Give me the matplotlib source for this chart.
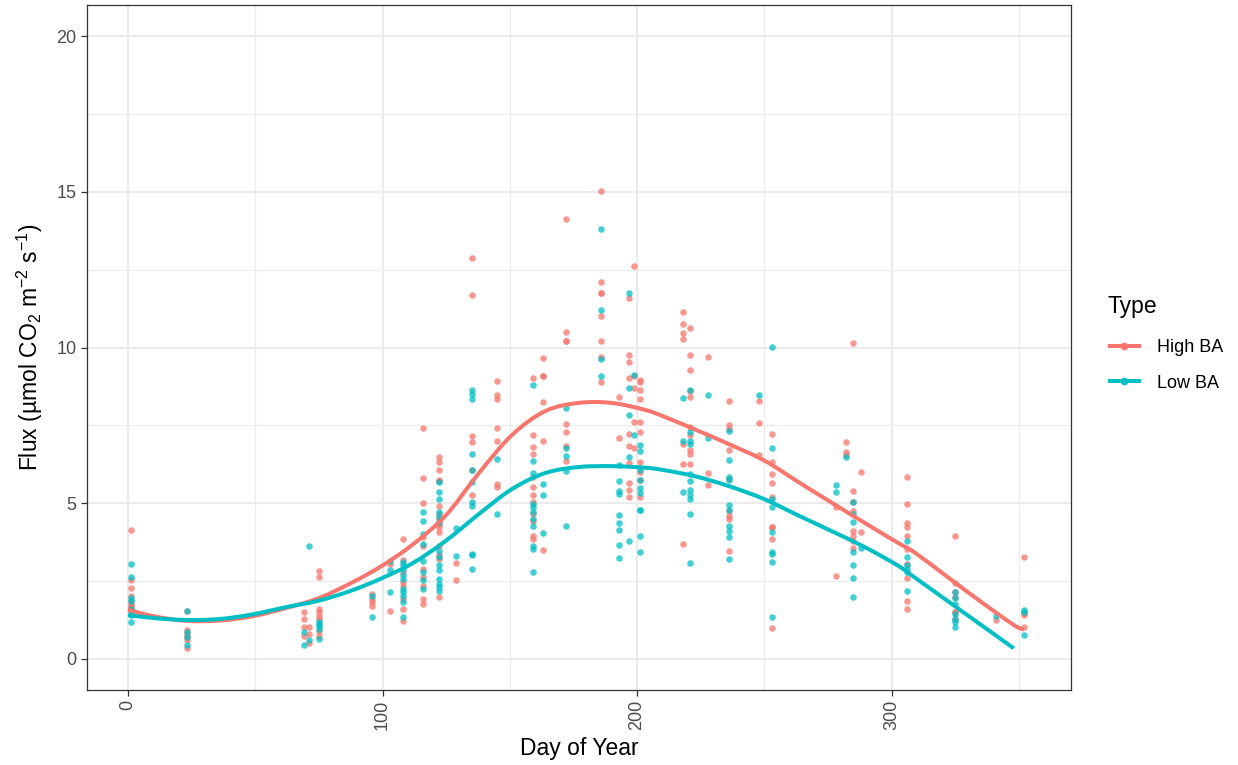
import matplotlib
matplotlib.use("Agg")
import matplotlib.pyplot as plt
from matplotlib.lines import Line2D
from matplotlib.path import Path
from matplotlib.patches import PathPatch
import numpy as np

plt.rcParams['font.family'] = ['Liberation Sans', 'DejaVu Sans']
plt.rcParams['mathtext.fontset'] = 'custom'
plt.rcParams['mathtext.rm'] = 'Liberation Sans'
plt.rcParams['mathtext.it'] = 'Liberation Sans:italic'

# ---------------- data ----------------
groups = ["High BA", "Low BA"]
colors = ["#F8766D", "#00BFC4"]

high_days = [1, 23, 69, 71, 75, 96, 103, 108, 116, 122, 129, 135, 145, 159, 163, 172,
             186, 193, 197, 199, 201, 218, 221, 228, 236, 248, 253, 278, 282, 285, 288,
             306, 325, 341, 352]
high_flux = [
    [4.13, 2.52, 2.27, 2.03, 1.87, 1.77, 1.66, 1.55, 1.62, 1.70],
    [1.55, 0.94, 0.80, 0.60, 0.34, 0.70],
    [1.52, 1.28, 1.02, 0.75],
    [1.02, 0.79, 0.50],
    [2.82, 2.64, 1.50, 1.39, 1.28, 0.91, 0.75, 1.60],
    [2.09, 1.93, 1.82, 1.71],
    [3.05, 1.53],
    [3.85, 3.16, 2.78, 2.46, 2.35, 1.93, 1.61, 1.23],
    [7.41, 5.80, 5.01, 3.91, 3.64, 2.89, 2.62, 2.35, 1.93, 1.77],
    [6.48, 6.32, 6.05, 5.73, 5.70, 4.92, 4.66, 4.50, 4.34, 4.23, 4.07, 3.64, 3.32, 3.21, 1.98],
    [3.08, 2.52],
    [12.87, 11.69, 7.17, 6.96, 5.25, 6.05],
    [8.92, 8.46, 8.35, 7.42, 7.01, 5.62, 5.52],
    [9.03, 7.20, 6.80, 6.59, 5.84, 5.52, 5.25, 5.03, 4.66, 4.44, 3.96, 3.85],
    [9.67, 9.10, 9.10, 8.25, 7.01, 3.50],
    [14.14, 10.51, 10.21, 10.21, 7.55, 7.30, 6.85, 6.34],
    [15.04, 12.10, 11.76, 11.76, 11.00, 10.20, 9.69, 8.89],
    [8.42, 7.09],
    [11.59, 9.77, 9.55, 9.03, 7.23, 6.85, 5.65, 5.41, 5.21, 6.30],
    [12.63, 9.10, 8.70, 7.60, 6.77],
    [8.97, 8.89, 8.62, 8.33, 7.60, 7.30, 6.31, 6.00, 5.75, 5.20],
    [11.14, 10.74, 10.47, 10.26, 6.90, 6.26, 3.69],
    [10.63, 9.77, 9.28, 8.60, 8.40, 7.45, 7.20, 6.70, 6.59, 6.26],
    [9.69, 5.97, 5.59],
    [8.27, 7.50, 7.39, 6.72, 5.78, 4.76, 4.60, 4.50, 3.48],
    [8.28, 7.58, 6.55],
    [7.23, 6.32, 5.94, 5.64, 5.19, 4.23, 4.23, 3.85, 1.00],
    [4.89, 2.66],
    [6.96, 6.64, 6.55],
    [10.15, 5.38, 5.05, 4.76, 4.10, 3.96, 3.77, 3.56],
    [6.00, 4.07],
    [5.84, 4.97, 4.37, 4.23, 3.96, 3.53, 3.05, 2.59, 1.85, 1.60],
    [3.94, 2.44, 2.14, 2.00, 1.52, 1.52, 1.27],
    [1.26],
    [3.27, 1.47, 1.40, 1.02],
]

low_days = [1, 23, 69, 71, 75, 96, 103, 108, 116, 122, 129, 135, 145, 159, 163, 172,
            186, 193, 197, 199, 201, 218, 221, 228, 236, 248, 253, 278, 282, 285, 288,
            306, 325, 341, 352]
low_flux = [
    [3.05, 2.62, 1.96, 1.45, 1.40, 1.18, 1.60, 1.85],
    [1.55, 0.70, 0.46, 0.85],
    [0.86, 0.46],
    [3.64, 0.59],
    [1.12, 1.05, 0.64, 1.20, 0.95],
    [2.01, 1.36],
    [3.13, 2.84, 2.14],
    [3.10, 3.00, 2.89, 2.68, 2.57, 2.25, 2.14, 2.03, 1.82, 1.34],
    [4.71, 4.44, 4.02, 3.69, 3.13, 2.78, 2.52, 2.25],
    [5.68, 5.35, 5.14, 4.71, 4.55, 4.39, 3.48, 3.26, 3.02, 2.84, 2.57, 2.41, 2.30, 2.19],
    [4.20, 3.30],
    [8.62, 8.50, 8.35, 6.59, 6.05, 5.68, 5.03, 4.92, 3.37, 3.32, 2.89],
    [6.42, 4.66],
    [8.80, 6.37, 5.97, 4.98, 4.87, 4.71, 4.50, 4.28, 3.64, 3.53, 2.78],
    [5.62, 5.25, 4.04],
    [8.05, 6.77, 6.53, 6.02, 4.26],
    [13.82, 11.20, 9.62, 9.07],
    [6.24, 5.70, 5.40, 5.30, 4.63, 4.37, 4.15, 3.67, 3.23],
    [11.76, 8.70, 7.82, 6.48, 3.77],
    [9.13, 7.20],
    [6.87, 6.66, 6.08, 5.75, 5.50, 5.33, 4.78, 4.78, 3.94, 3.43],
    [8.39, 6.99, 5.35],
    [8.65, 7.30, 7.00, 6.90, 5.94, 5.70, 5.41, 5.25, 5.14, 4.66, 3.07],
    [8.49, 7.09],
    [7.32, 6.40, 5.85, 5.75, 4.95, 4.79, 4.28, 4.12, 3.91, 3.21],
    [8.46],
    [10.02, 6.77, 5.14, 4.89, 4.07, 3.43, 3.37, 3.10, 1.36],
    [5.60, 5.35],
    [6.48],
    [5.05, 4.66, 4.39, 3.43, 3.03, 2.59, 2.00],
    [3.57],
    [3.80, 3.27, 3.02, 2.90, 2.80, 2.17],
    [2.14, 1.95, 1.75, 1.43, 1.28, 1.17, 1.02],
    [1.39],
    [1.58, 0.77, 1.50],
]

# smoothed trend lines
high_curve_days = [0, 10, 23, 36, 49, 62, 75, 88, 100, 112, 125, 138, 151, 164, 177, 190,
                   203, 210, 223, 236, 250, 263, 276, 289, 302, 309, 322, 335, 348, 352]
high_curve_flux = [1.58, 1.37, 1.22, 1.23, 1.37, 1.63, 1.95, 2.45, 3.00, 3.68, 4.62, 5.98,
                   7.20, 7.96, 8.22, 8.22, 8.00, 7.80, 7.36, 6.90, 6.37, 5.70, 5.04, 4.39,
                   3.75, 3.42, 2.63, 1.84, 1.09, 0.94]
low_curve_days = [0, 10, 23, 36, 49, 62, 75, 88, 100, 112, 125, 138, 151, 164, 177, 190,
                  203, 210, 223, 236, 250, 263, 276, 289, 302, 309, 322, 335, 348]
low_curve_flux = [1.41, 1.31, 1.25, 1.28, 1.43, 1.66, 1.87, 2.20, 2.60, 3.08, 3.80, 4.66,
                  5.46, 5.97, 6.16, 6.19, 6.14, 6.07, 5.86, 5.55, 5.13, 4.62, 4.12, 3.61,
                  3.02, 2.62, 1.86, 1.10, 0.34]

x_ticks = [0, 100, 200, 300]
y_ticks = [0, 5, 10, 15, 20]

# ---------------- figure ----------------
W, H = 1238, 765
fig = plt.figure(figsize=(W / 100, H / 100), dpi=100)
ax = fig.add_axes([87 / W, (H - 690) / H, (1071 - 87) / W, (690 - 5) / H])

grid_c = "#EBEBEB"
for xm in [50, 150, 250, 350]:
    ax.axvline(xm, color=grid_c, lw=0.8, zorder=0)
for ym in [2.5, 7.5, 12.5, 17.5]:
    ax.axhline(ym, color=grid_c, lw=0.8, zorder=0)
for xm in x_ticks:
    ax.axvline(xm, color=grid_c, lw=1.5, zorder=0)
for ym in y_ticks:
    ax.axhline(ym, color=grid_c, lw=1.5, zorder=0)


def expand(days, vals):
    xs, ys = [], []
    for d, v in zip(days, vals):
        xs.extend([d] * len(v))
        ys.extend(v)
    return xs, ys


hx, hy = expand(high_days, high_flux)
lx, ly = expand(low_days, low_flux)
ax.scatter(hx, hy, s=22, color=colors[0], alpha=0.75, linewidths=0, zorder=2)
ax.scatter(lx, ly, s=22, color=colors[1], alpha=0.75, linewidths=0, zorder=2)


def smooth_path(xs, ys):
    """Cubic Bezier path passing through the read points (Catmull-Rom tangents)."""
    p = np.column_stack([xs, ys]).astype(float)
    n = len(p)
    verts = [p[0]]
    codes = [Path.MOVETO]
    for i in range(n - 1):
        p0 = p[i - 1] if i > 0 else p[i]
        p1, p2 = p[i], p[i + 1]
        p3 = p[i + 2] if i + 2 < n else p[i + 1]
        c1 = p1 + (p2 - p0) / 6.0
        c2 = p2 - (p3 - p1) / 6.0
        verts += [c1, c2, p2]
        codes += [Path.CURVE4] * 3
    return Path(verts, codes)


ax.add_patch(PathPatch(smooth_path(high_curve_days, high_curve_flux), fill=False,
                       edgecolor=colors[0], lw=2.9, capstyle='butt', zorder=3))
ax.add_patch(PathPatch(smooth_path(low_curve_days, low_curve_flux), fill=False,
                       edgecolor=colors[1], lw=2.9, capstyle='butt', zorder=4))

ax.set_xlim(-16.1, 370.5)
ax.set_ylim(-1.0, 21.0)
ax.set_xticks(x_ticks)
ax.set_yticks(y_ticks)
ax.set_xticklabels([str(t) for t in x_ticks], rotation=90, va='top', ha='center')
ax.tick_params(axis='both', colors="#333333", labelcolor="#4D4D4D", labelsize=13,
               length=4, width=0.9)
ax.tick_params(axis='x', pad=3)
for sp in ax.spines.values():
    sp.set_color("#333333")
    sp.set_linewidth(0.9)
ax.set_axisbelow(True)

ax.set_xlabel("Day of Year", fontsize=16.5, color="black", labelpad=5)
ax.set_ylabel("Flux (µmol CO$_2$ m$^{-2}$ s$^{-1}$)", fontsize=16.5, color="black",
              labelpad=8)

handles = [Line2D([0], [0], color=c, lw=2.9, marker='o', markersize=4.5) for c in colors]
fig.text(1107 / W, 1 - 306 / H, "Type", fontsize=16.5, ha='left', va='center')
leg = fig.legend(handles, groups, loc='center left',
                 bbox_to_anchor=(1110 / W, 1 - 365.5 / H), frameon=False,
                 fontsize=13, handlelength=1.6, borderpad=0,
                 labelspacing=1.0, handletextpad=1.0, borderaxespad=0)

fig.savefig("out.png", dpi=100)
